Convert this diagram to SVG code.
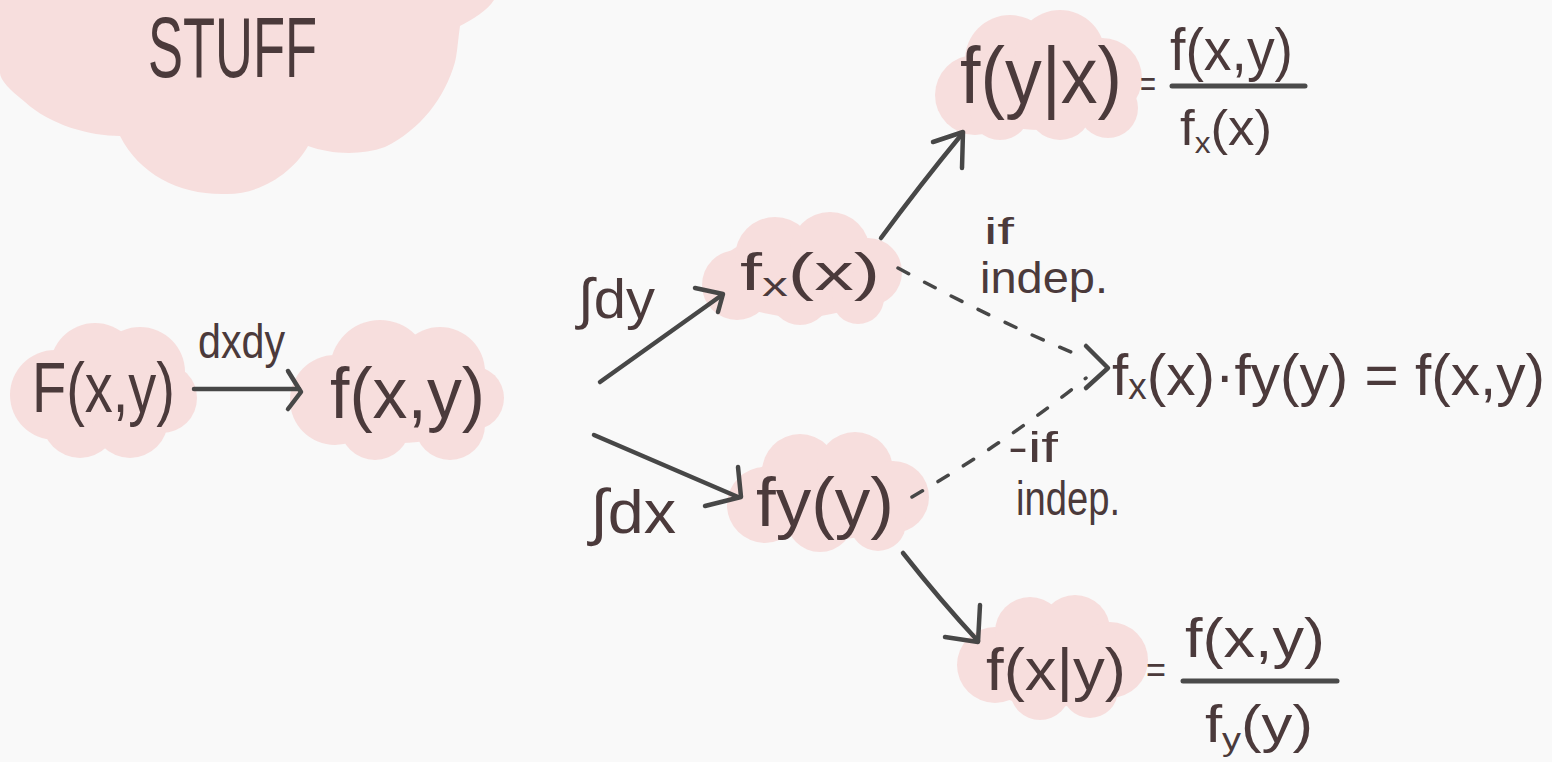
<svg xmlns="http://www.w3.org/2000/svg" width="1552" height="762" viewBox="0 0 1552 762">
<style>
.cloud{fill:#f7dedd}
.t{font-family:"Liberation Sans","DejaVu Sans",sans-serif;fill:#4b3a3b}
.c{fill:none;stroke:#474747;stroke-width:4.5;stroke-linecap:round;stroke-linejoin:round}
.d{fill:none;stroke:#474747;stroke-width:3.5;stroke-linecap:round;stroke-dasharray:12 18}
.bar{stroke:#4b4b4b;stroke-width:5;stroke-linecap:round}
</style>
<rect width="1552" height="762" fill="#f9f9f9"/>

<g id="title">
<path class="cloud" d="M0,0 L494,0 C488,10 472,20 460,26 C458,40 457,55 455,62 C445,98 420,130 385,147 C360,156 330,154 308,146 C295,170 262,195 225,194 C180,195 140,175 120,136 C90,136 50,125 25,102 C10,90 0,80 0,73 Z"/>
<text class="t" x="148" y="77" font-size="86" textLength="169" lengthAdjust="spacingAndGlyphs">STUFF</text>
</g>

<g id="node-F">
<g class="cloud"><ellipse cx="102" cy="395" rx="80" ry="45"/><circle cx="55" cy="395" r="45"/><circle cx="95" cy="368" r="45"/><circle cx="140" cy="372" r="45"/><circle cx="162" cy="398" r="35"/><circle cx="80" cy="420" r="38"/><circle cx="130" cy="420" r="38"/></g>
<text class="t" x="32" y="412" font-size="70" textLength="143" lengthAdjust="spacingAndGlyphs">F(x,y)</text>
</g>
<text id="label-dxdy" class="t" x="198" y="358" font-size="48" textLength="87" lengthAdjust="spacingAndGlyphs">dxdy</text>

<g id="node-f">
<g class="cloud"><ellipse cx="400" cy="395" rx="90" ry="48"/><circle cx="335" cy="400" r="45"/><circle cx="380" cy="370" r="50"/><circle cx="440" cy="372" r="45"/><circle cx="472" cy="398" r="32"/><circle cx="375" cy="425" r="35"/><circle cx="450" cy="425" r="35"/></g>
<text class="t" x="330" y="418" font-size="72" textLength="155" lengthAdjust="spacingAndGlyphs">f(x,y)</text>
</g>

<text id="label-dy" class="t" x="578" y="318" font-size="56" textLength="77" lengthAdjust="spacingAndGlyphs">∫dy</text>
<text id="label-dx" class="t" x="590" y="533" font-size="62" textLength="86" lengthAdjust="spacingAndGlyphs">∫dx</text>

<g id="node-fx">
<g class="cloud"><ellipse cx="800" cy="275" rx="85" ry="42"/><circle cx="737" cy="285" r="35"/><circle cx="775" cy="257" r="40"/><circle cx="830" cy="252" r="40"/><circle cx="868" cy="272" r="34"/><circle cx="800" cy="295" r="30"/><circle cx="858" cy="298" r="26"/></g>
<text class="t" x="740" y="290" font-size="52" textLength="140" lengthAdjust="spacingAndGlyphs">f<tspan font-size="34" dy="6">x</tspan><tspan dy="-6">(x)</tspan></text>
</g>

<g id="node-fyx">
<g class="cloud"><ellipse cx="1040" cy="82" rx="85" ry="48"/><circle cx="975" cy="95" r="40"/><circle cx="1010" cy="60" r="45"/><circle cx="1060" cy="55" r="45"/><circle cx="1102" cy="78" r="40"/><circle cx="1108" cy="108" r="30"/><circle cx="1000" cy="110" r="30"/><circle cx="1060" cy="108" r="32"/></g>
<text class="t" x="960" y="103" font-size="80" textLength="162" lengthAdjust="spacingAndGlyphs">f(y|x)</text>
<text class="t" x="1140" y="96" font-size="36" textLength="16" lengthAdjust="spacingAndGlyphs">=</text>
<text class="t" x="1170" y="70" font-size="60" textLength="123" lengthAdjust="spacingAndGlyphs">f(x,y)</text>
<line class="bar" x1="1172" y1="86" x2="1305" y2="86"/>
<text class="t" x="1180" y="145" font-size="50" textLength="92" lengthAdjust="spacingAndGlyphs">f<tspan font-size="30" dy="8">x</tspan><tspan dy="-8">(x)</tspan></text>
</g>

<g id="label-indep1">
<text class="t" x="984" y="244" font-size="36" textLength="30" lengthAdjust="spacingAndGlyphs">if</text>
<text class="t" x="980" y="293" font-size="44" textLength="128" lengthAdjust="spacingAndGlyphs">indep.</text>
</g>
<g id="label-indep2">
<text class="t" x="1008" y="462" font-size="42" textLength="50" lengthAdjust="spacingAndGlyphs">-if</text>
<text class="t" x="1016" y="515" font-size="48" textLength="104" lengthAdjust="spacingAndGlyphs">indep.</text>
</g>

<g id="node-fy">
<g class="cloud"><ellipse cx="828" cy="495" rx="85" ry="45"/><circle cx="765" cy="505" r="38"/><circle cx="800" cy="472" r="38"/><circle cx="855" cy="470" r="38"/><circle cx="893" cy="497" r="36"/><circle cx="820" cy="518" r="34"/><circle cx="878" cy="523" r="28"/></g>
<text class="t" x="756" y="526" font-size="68" textLength="138" lengthAdjust="spacingAndGlyphs">fy(y)</text>
</g>

<g id="node-product">
<text class="t" x="1112" y="395" font-size="57" textLength="433" lengthAdjust="spacingAndGlyphs">f<tspan font-size="36" dy="4">x</tspan><tspan dy="-4">(x)·fy(y) = f(x,y)</tspan></text>
</g>

<g id="node-fxy">
<g class="cloud"><ellipse cx="1052" cy="662" rx="80" ry="45"/><circle cx="995" cy="665" r="38"/><circle cx="1030" cy="632" r="35"/><circle cx="1075" cy="630" r="35"/><circle cx="1110" cy="660" r="38"/><circle cx="1040" cy="690" r="30"/><circle cx="1090" cy="690" r="28"/></g>
<text class="t" x="986" y="690" font-size="60" textLength="140" lengthAdjust="spacingAndGlyphs">f(x|y)</text>
<text class="t" x="1146" y="682" font-size="36" textLength="20" lengthAdjust="spacingAndGlyphs">=</text>
<text class="t" x="1185" y="657" font-size="56" textLength="140" lengthAdjust="spacingAndGlyphs">f(x,y)</text>
<line class="bar" x1="1183" y1="681" x2="1337" y2="681"/>
<text class="t" x="1205" y="742" font-size="52" textLength="108" lengthAdjust="spacingAndGlyphs">f<tspan font-size="32" dy="8">y</tspan><tspan dy="-8">(y)</tspan></text>
</g>

<g id="connectors">
<line class="c" x1="194" y1="389" x2="299" y2="389"/>
<polyline class="c" points="288,371 301,392 288,409"/>
<path class="c" d="M600,382 L722,295"/>
<polyline class="c" points="695,288 723,294 718,312"/>
<path class="c" d="M881,238 Q920,185 962,134"/>
<polyline class="c" points="933,142 963,132 962,168"/>
<path class="d" d="M898,268 Q990,318 1078,355"/>
<polyline class="c" points="1086,346 1108,368 1086,388"/>
<path class="d" d="M912,497 Q1010,440 1086,378"/>
<path class="c" d="M594,435 L738,497"/>
<polyline class="c" points="738,467 741,497 705,506"/>
<path class="c" d="M903,553 Q940,600 978,641"/>
<polyline class="c" points="980,605 978,642 945,637"/>
</g>
</svg>
